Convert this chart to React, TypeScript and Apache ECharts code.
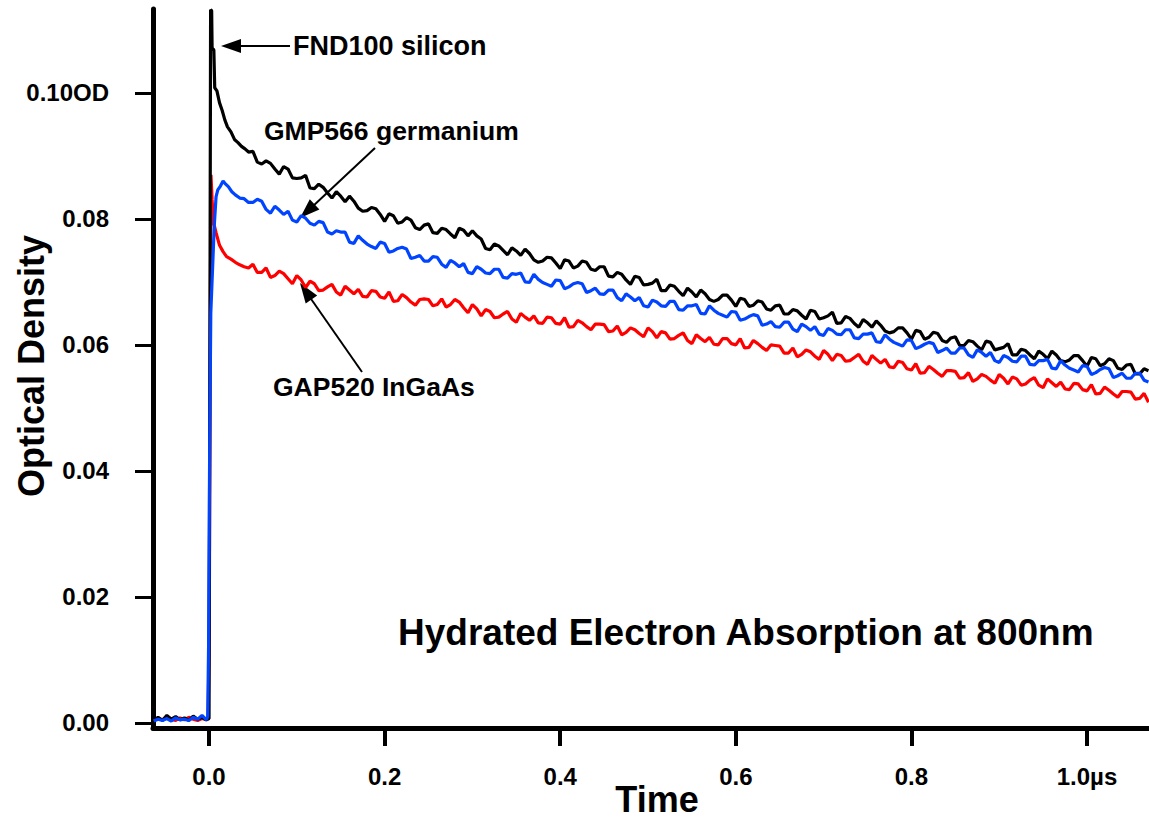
import React, { useEffect, useRef } from 'react';
import * as echarts from 'echarts';

const FONT = '"Liberation Sans", Arial, Helvetica, sans-serif';

// Axis tick values
const X_TICKS = [0, 0.2, 0.4, 0.6, 0.8, 1.0];
const Y_TICKS = [0, 0.02, 0.04, 0.06, 0.08, 0.1];

// Sample times for the decay part (µs)
const TIME_TAIL = [
  0.05, 0.06, 0.07, 0.08, 0.09, 0.10, 0.11, 0.12, 0.13, 0.14,
  0.15, 0.16, 0.17, 0.18, 0.19, 0.20, 0.21, 0.22, 0.23, 0.24,
  0.25, 0.26, 0.27, 0.28, 0.29, 0.30, 0.31, 0.32, 0.33, 0.34,
  0.35, 0.36, 0.37, 0.38, 0.39, 0.40, 0.41, 0.42, 0.43, 0.44,
  0.45, 0.46, 0.47, 0.48, 0.49, 0.50, 0.51, 0.52, 0.53, 0.54,
  0.55, 0.56, 0.57, 0.58, 0.59, 0.60, 0.61, 0.62, 0.63, 0.64,
  0.65, 0.66, 0.67, 0.68, 0.69, 0.70, 0.71, 0.72, 0.73, 0.74,
  0.75, 0.76, 0.77, 0.78, 0.79, 0.80, 0.81, 0.82, 0.83, 0.84,
  0.85, 0.86, 0.87, 0.88, 0.89, 0.90, 0.91, 0.92, 0.93, 0.94,
  0.95, 0.96, 0.97, 0.98, 0.99, 1.00, 1.01, 1.02, 1.03, 1.04,
  1.05, 1.06, 1.07,
];
const TIME_MID = [
  0.055, 0.065, 0.075, 0.085, 0.095, 0.105, 0.115, 0.125, 0.135, 0.145,
  0.155, 0.165, 0.175, 0.185, 0.195, 0.205, 0.215, 0.225, 0.235, 0.245,
  0.255, 0.265, 0.275, 0.285, 0.295, 0.305, 0.315, 0.325, 0.335, 0.345,
  0.355, 0.365, 0.375, 0.385, 0.395, 0.405, 0.415, 0.425, 0.435, 0.445,
  0.455, 0.465, 0.475, 0.485, 0.495, 0.505, 0.515, 0.525, 0.535, 0.545,
  0.555, 0.565, 0.575, 0.585, 0.595, 0.605, 0.615, 0.625, 0.635, 0.645,
  0.655, 0.665, 0.675, 0.685, 0.695, 0.705, 0.715, 0.725, 0.735, 0.745,
  0.755, 0.765, 0.775, 0.785, 0.795, 0.805, 0.815, 0.825, 0.835, 0.845,
  0.855, 0.865, 0.875, 0.885, 0.895, 0.905, 0.915, 0.925, 0.935, 0.945,
  0.955, 0.965, 0.975, 0.985, 0.995, 1.005, 1.015, 1.025, 1.035, 1.045,
  1.055, 1.065,
];

// FND100 silicon (black)
const SI_TIME_EARLY = [
  -0.063, -0.058, -0.053, -0.048, -0.043, -0.038, -0.033, -0.028, -0.023, -0.018,
  -0.013, -0.008, -0.003, 0.0, 0.0008, 0.0018, 0.003, 0.0035, 0.0055, 0.0065,
  0.009, 0.012, 0.015, 0.018, 0.021, 0.025, 0.029, 0.033, 0.037, 0.041, 0.045,
];
const SI_OD_EARLY = [
  0.0005, 0.0009, 0.0004, 0.0012, 0.0006, 0.0010, 0.0005, 0.0008, 0.0004, 0.0011,
  0.0006, 0.0009, 0.0005, 0.0007, 0.0450, 0.1132, 0.1130, 0.1071, 0.1068, 0.1008,
  0.1003, 0.0984, 0.0972, 0.0957, 0.0946, 0.0938, 0.0926, 0.0921, 0.0915, 0.0911, 0.0906,
];
const SI_OD_TAIL = [
  0.0907, 0.0887, 0.0888, 0.0871, 0.0879, 0.0864, 0.0869, 0.0848, 0.0850, 0.0833,
  0.0836, 0.0836, 0.0817, 0.0813, 0.0816, 0.0796, 0.0805, 0.0795, 0.0798, 0.0783,
  0.0792, 0.0777, 0.0783, 0.0770, 0.0782, 0.0781, 0.0768, 0.0751, 0.0757, 0.0743,
  0.0749, 0.0752, 0.0735, 0.0733, 0.0738, 0.0721, 0.0733, 0.0725, 0.0731, 0.0718,
  0.0724, 0.0708, 0.0712, 0.0696, 0.0707, 0.0696, 0.0704, 0.0686, 0.0693, 0.0678,
  0.0684, 0.0687, 0.0672, 0.0672, 0.0679, 0.0661, 0.0672, 0.0663, 0.0668, 0.0655,
  0.0663, 0.0649, 0.0654, 0.0641, 0.0653, 0.0643, 0.0652, 0.0635, 0.0642, 0.0628,
  0.0635, 0.0638, 0.0622, 0.0621, 0.0627, 0.0609, 0.0621, 0.0612, 0.0618, 0.0604,
  0.0613, 0.0599, 0.0605, 0.0592, 0.0604, 0.0594, 0.0602, 0.0584, 0.0591, 0.0578,
  0.0585, 0.0590, 0.0575, 0.0576, 0.0583, 0.0566, 0.0578, 0.0570, 0.0575, 0.0561,
  0.0569, 0.0554, 0.0559,
];
const SI_OD_MID = [
  0.0890, 0.0892, 0.0879, 0.0883, 0.0865, 0.0865, 0.0849, 0.0855, 0.0841, 0.0843,
  0.0827, 0.0828, 0.0812, 0.0818, 0.0807, 0.0808, 0.0793, 0.0802, 0.0786, 0.0790,
  0.0778, 0.0785, 0.0776, 0.0785, 0.0773, 0.0773, 0.0753, 0.0760, 0.0750, 0.0754,
  0.0742, 0.0745, 0.0731, 0.0739, 0.0730, 0.0735, 0.0722, 0.0733, 0.0720, 0.0724,
  0.0709, 0.0715, 0.0703, 0.0709, 0.0695, 0.0698, 0.0686, 0.0695, 0.0685, 0.0690,
  0.0676, 0.0681, 0.0669, 0.0679, 0.0671, 0.0674, 0.0661, 0.0670, 0.0657, 0.0662,
  0.0649, 0.0656, 0.0647, 0.0655, 0.0641, 0.0646, 0.0634, 0.0645, 0.0634, 0.0640,
  0.0628, 0.0631, 0.0619, 0.0627, 0.0619, 0.0623, 0.0609, 0.0620, 0.0607, 0.0611,
  0.0599, 0.0607, 0.0598, 0.0606, 0.0592, 0.0596, 0.0584, 0.0593, 0.0584, 0.0590,
  0.0578, 0.0584, 0.0573, 0.0583, 0.0575, 0.0580, 0.0567, 0.0578, 0.0563, 0.0568,
  0.0554, 0.0562,
];

// GMP566 germanium (blue)
const GE_TIME_EARLY = [
  -0.063, -0.058, -0.053, -0.048, -0.043, -0.038, -0.033, -0.028, -0.023, -0.018,
  -0.013, -0.008, -0.003, -0.0015, -0.0005, 0.0008, 0.002, 0.004, 0.006, 0.008,
  0.010, 0.013, 0.016, 0.019, 0.022, 0.026, 0.030, 0.035, 0.040, 0.045,
];
const GE_OD_EARLY = [
  0.0003, 0.0006, 0.0004, 0.0007, 0.0003, 0.0008, 0.0005, 0.0006, 0.0004, 0.0009,
  0.0006, 0.0012, 0.0005, 0.0010, 0.0120, 0.0450, 0.0650, 0.0720, 0.0790, 0.0835,
  0.0846, 0.0852, 0.0860, 0.0855, 0.0851, 0.0843, 0.0838, 0.0833, 0.0832, 0.0826,
];
const GE_OD_TAIL = [
  0.0826, 0.0828, 0.0809, 0.0814, 0.0812, 0.0795, 0.0801, 0.0790, 0.0794, 0.0776,
  0.0779, 0.0763, 0.0773, 0.0760, 0.0753, 0.0761, 0.0749, 0.0755, 0.0737, 0.0742,
  0.0733, 0.0739, 0.0723, 0.0730, 0.0729, 0.0713, 0.0720, 0.0713, 0.0720, 0.0706,
  0.0712, 0.0700, 0.0712, 0.0699, 0.0693, 0.0702, 0.0692, 0.0699, 0.0683, 0.0690,
  0.0680, 0.0687, 0.0670, 0.0676, 0.0675, 0.0660, 0.0668, 0.0661, 0.0669, 0.0655,
  0.0662, 0.0650, 0.0662, 0.0650, 0.0644, 0.0652, 0.0641, 0.0648, 0.0631, 0.0637,
  0.0628, 0.0636, 0.0621, 0.0629, 0.0629, 0.0615, 0.0623, 0.0616, 0.0624, 0.0610,
  0.0617, 0.0605, 0.0616, 0.0604, 0.0598, 0.0607, 0.0597, 0.0604, 0.0588, 0.0595,
  0.0587, 0.0595, 0.0580, 0.0588, 0.0588, 0.0572, 0.0580, 0.0573, 0.0582, 0.0568,
  0.0575, 0.0563, 0.0575, 0.0563, 0.0557, 0.0566, 0.0556, 0.0564, 0.0548, 0.0555,
  0.0547, 0.0555, 0.0541,
];
const GE_OD_MID = [
  0.0831, 0.0815, 0.0820, 0.0807, 0.0798, 0.0805, 0.0793, 0.0796, 0.0779, 0.0781,
  0.0779, 0.0761, 0.0766, 0.0756, 0.0763, 0.0747, 0.0753, 0.0752, 0.0739, 0.0733,
  0.0740, 0.0728, 0.0734, 0.0724, 0.0715, 0.0724, 0.0714, 0.0720, 0.0707, 0.0713,
  0.0714, 0.0699, 0.0704, 0.0696, 0.0703, 0.0689, 0.0697, 0.0697, 0.0686, 0.0681,
  0.0687, 0.0675, 0.0681, 0.0670, 0.0662, 0.0671, 0.0662, 0.0669, 0.0656, 0.0662,
  0.0664, 0.0649, 0.0655, 0.0647, 0.0653, 0.0639, 0.0645, 0.0646, 0.0633, 0.0629,
  0.0636, 0.0625, 0.0633, 0.0623, 0.0617, 0.0626, 0.0617, 0.0624, 0.0611, 0.0617,
  0.0619, 0.0604, 0.0609, 0.0601, 0.0608, 0.0594, 0.0601, 0.0602, 0.0591, 0.0587,
  0.0595, 0.0584, 0.0592, 0.0582, 0.0575, 0.0583, 0.0574, 0.0582, 0.0569, 0.0575,
  0.0577, 0.0562, 0.0568, 0.0560, 0.0567, 0.0553, 0.0561, 0.0562, 0.0551, 0.0547,
  0.0555, 0.0544,
];

// GAP520 InGaAs (red)
const INGAAS_TIME_EARLY = [
  -0.063, -0.058, -0.053, -0.048, -0.043, -0.038, -0.033, -0.028, -0.023, -0.018,
  -0.013, -0.008, -0.003, -0.001, 0.0003, 0.0012, 0.0022, 0.0035, 0.005, 0.008,
  0.012, 0.016, 0.020, 0.025, 0.030, 0.035, 0.040, 0.045,
];
const INGAAS_OD_EARLY = [
  0.0004, 0.0007, 0.0005, 0.0010, 0.0006, 0.0004, 0.0008, 0.0005, 0.0009, 0.0006,
  0.0004, 0.0007, 0.0005, 0.0008, 0.0150, 0.0550, 0.0870, 0.0830, 0.0795, 0.0778,
  0.0758, 0.0748, 0.0740, 0.0736, 0.0731, 0.0727, 0.0724, 0.0722,
];
const INGAAS_OD_TAIL = [
  0.0728, 0.0715, 0.0707, 0.0717, 0.0705, 0.0710, 0.0691, 0.0697, 0.0687, 0.0696,
  0.0679, 0.0687, 0.0688, 0.0676, 0.0685, 0.0674, 0.0669, 0.0680, 0.0668, 0.0672,
  0.0672, 0.0664, 0.0660, 0.0672, 0.0659, 0.0664, 0.0646, 0.0653, 0.0644, 0.0653,
  0.0636, 0.0644, 0.0646, 0.0634, 0.0643, 0.0633, 0.0628, 0.0639, 0.0629, 0.0633,
  0.0632, 0.0622, 0.0616, 0.0627, 0.0618, 0.0627, 0.0611, 0.0619, 0.0610, 0.0619,
  0.0602, 0.0610, 0.0612, 0.0600, 0.0610, 0.0600, 0.0595, 0.0607, 0.0596, 0.0600,
  0.0598, 0.0587, 0.0581, 0.0592, 0.0582, 0.0591, 0.0575, 0.0583, 0.0575, 0.0585,
  0.0569, 0.0577, 0.0577, 0.0564, 0.0572, 0.0560, 0.0555, 0.0566, 0.0555, 0.0559,
  0.0558, 0.0548, 0.0542, 0.0553, 0.0544, 0.0553, 0.0538, 0.0546, 0.0538, 0.0548,
  0.0532, 0.0540, 0.0541, 0.0529, 0.0538, 0.0527, 0.0522, 0.0533, 0.0522, 0.0526,
  0.0525, 0.0515, 0.0509,
];
const INGAAS_OD_MID = [
  0.0715, 0.0722, 0.0710, 0.0713, 0.0697, 0.0703, 0.0701, 0.0686, 0.0692, 0.0684,
  0.0693, 0.0681, 0.0677, 0.0686, 0.0676, 0.0684, 0.0670, 0.0675, 0.0663, 0.0673,
  0.0662, 0.0673, 0.0664, 0.0668, 0.0651, 0.0657, 0.0656, 0.0643, 0.0649, 0.0641,
  0.0650, 0.0639, 0.0635, 0.0644, 0.0634, 0.0643, 0.0629, 0.0635, 0.0624, 0.0633,
  0.0621, 0.0630, 0.0620, 0.0624, 0.0613, 0.0621, 0.0621, 0.0609, 0.0615, 0.0607,
  0.0616, 0.0605, 0.0601, 0.0610, 0.0602, 0.0610, 0.0596, 0.0602, 0.0591, 0.0599,
  0.0587, 0.0595, 0.0585, 0.0589, 0.0577, 0.0585, 0.0585, 0.0574, 0.0580, 0.0574,
  0.0583, 0.0571, 0.0565, 0.0574, 0.0562, 0.0570, 0.0556, 0.0561, 0.0550, 0.0559,
  0.0547, 0.0556, 0.0546, 0.0550, 0.0539, 0.0547, 0.0549, 0.0536, 0.0544, 0.0536,
  0.0546, 0.0534, 0.0530, 0.0539, 0.0529, 0.0537, 0.0523, 0.0528, 0.0517, 0.0526,
  0.0514, 0.0523,
];

function pairs(t: number[], v: number[]) {
  return t.map((x, i) => [x, v[i]]);
}

function buildSeries(tEarly: number[], vEarly: number[], vTail: number[], vMid: number[]) {
  return pairs(tEarly, vEarly)
    .concat(pairs(TIME_TAIL, vTail))
    .concat(pairs(TIME_MID, vMid))
    .sort((a, b) => a[0] - b[0]);
}

function txt(text: string, x: number, y: number, size: number, align = 'left', rotation = 0) {
  return {
    type: 'text',
    x,
    y,
    rotation,
    silent: true,
    style: {
      text,
      font: `bold ${size}px ${FONT}`,
      fill: '#000',
      align,
      verticalAlign: 'middle',
      textAlign: align,
      textVerticalAlign: 'middle',
    },
  };
}

function line(x1: number, y1: number, x2: number, y2: number) {
  return {
    type: 'line',
    silent: true,
    shape: { x1, y1, x2, y2 },
    style: { stroke: '#000', lineWidth: 2 },
  };
}

function head(points: number[][]) {
  return {
    type: 'polygon',
    silent: true,
    shape: { points },
    style: { fill: '#000' },
  };
}

export default function App() {
  const ref = useRef<HTMLDivElement>(null);

  useEffect(() => {
    const chart = echarts.init(ref.current as HTMLDivElement, null, { renderer: 'svg' });
    chart.setOption({
      animation: false,
      backgroundColor: '#fff',
      grid: { left: 153, right: 0, top: 9, bottom: 90, containLabel: false },
      xAxis: {
        type: 'value',
        min: -0.0638,
        max: 1.0706,
        splitLine: { show: false },
        axisLine: { show: true, onZero: false, lineStyle: { color: '#000', width: 5 } },
        axisTick: {
          show: true,
          customValues: X_TICKS,
          length: 18,
          lineStyle: { color: '#000', width: 4 },
        },
        axisLabel: {
          customValues: X_TICKS,
          margin: 36,
          color: '#000',
          fontFamily: FONT,
          fontWeight: 'bold',
          fontSize: 24,
          formatter: (v: number) => (Math.abs(v - 1) < 1e-9 ? '1.0µs' : v.toFixed(1)),
        },
      },
      yAxis: {
        type: 'value',
        min: -0.0008,
        max: 0.1133,
        splitLine: { show: false },
        axisLine: { show: true, onZero: false, lineStyle: { color: '#000', width: 5 } },
        axisTick: {
          show: true,
          customValues: Y_TICKS,
          length: 18,
          lineStyle: { color: '#000', width: 3 },
        },
        axisLabel: {
          customValues: Y_TICKS,
          margin: 44,
          color: '#000',
          fontFamily: FONT,
          fontWeight: 'bold',
          fontSize: 24,
          formatter: (v: number) => (Math.abs(v - 0.1) < 1e-9 ? '0.10OD' : v.toFixed(2)),
        },
      },
      series: [
        {
          name: 'GAP520 InGaAs',
          type: 'line',
          symbol: 'none',
          data: buildSeries(INGAAS_TIME_EARLY, INGAAS_OD_EARLY, INGAAS_OD_TAIL, INGAAS_OD_MID),
          lineStyle: { color: '#ff0000', width: 3.2 },
          itemStyle: { color: '#ff0000' },
        },
        {
          name: 'FND100 silicon',
          type: 'line',
          symbol: 'none',
          data: buildSeries(SI_TIME_EARLY, SI_OD_EARLY, SI_OD_TAIL, SI_OD_MID),
          lineStyle: { color: '#000000', width: 3.2 },
          itemStyle: { color: '#000000' },
        },
        {
          name: 'GMP566 germanium',
          type: 'line',
          symbol: 'none',
          data: buildSeries(GE_TIME_EARLY, GE_OD_EARLY, GE_OD_TAIL, GE_OD_MID),
          lineStyle: { color: '#0044ff', width: 3.2 },
          itemStyle: { color: '#0044ff' },
        },
      ],
      graphic: [
        txt('FND100 silicon', 293, 46, 27),
        txt('GMP566 germanium', 264, 131, 26.5),
        txt('GAP520 InGaAs', 273, 387, 26.5),
        txt('Hydrated Electron Absorption at 800nm', 398, 632, 37),
        txt('Time', 657, 799, 36, 'center'),
        txt('Optical Density', 31, 366, 36, 'center', Math.PI / 2),
        line(239, 46, 290, 46),
        head([[221, 46], [241, 39], [241, 53]]),
        line(375, 148, 312, 207),
        head([[300, 218], [319.4, 209.5], [309.8, 199.3]]),
        line(362, 372, 309, 296),
        head([[300, 283], [317.2, 295.4], [305.7, 303.4]]),
      ],
    });
    return () => chart.dispose();
  }, []);

  return (
    <div
      ref={ref}
      style={{ position: 'absolute', left: 0, top: 0, width: 1149, height: 818, background: '#fff' }}
    />
  );
}
